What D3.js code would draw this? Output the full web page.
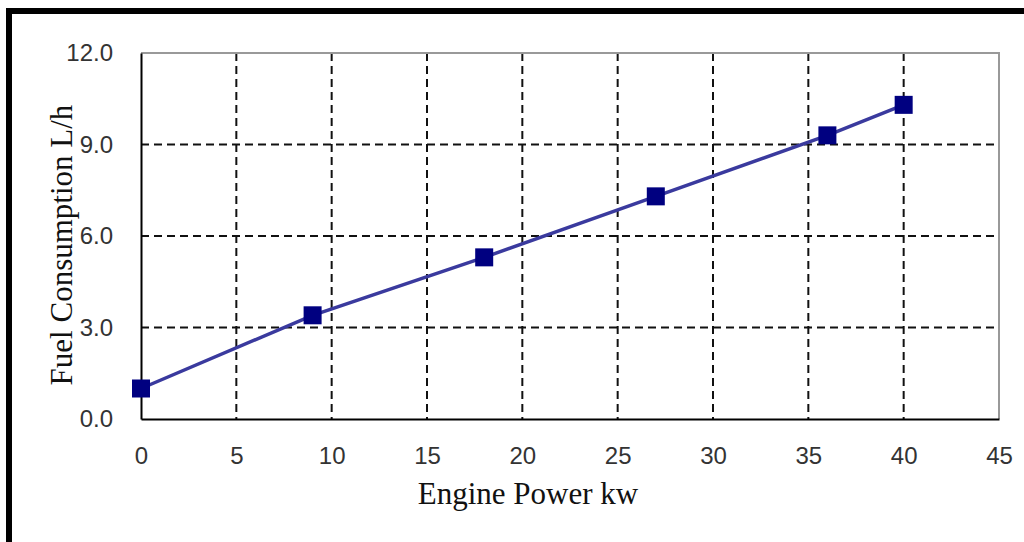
<!DOCTYPE html>
<html>
<head>
<meta charset="utf-8">
<script src="https://cdn.jsdelivr.net/npm/d3@7"></script>
<style>
  body { margin: 0; background: #fff; }
  svg { display: block; }
</style>
</head>
<body>
<svg id="chart" width="1024" height="542"></svg>
<script>
// data
var power = [0, 9, 18, 27, 36, 40];
var fuel = [1.0, 3.4, 5.3, 7.3, 9.3, 10.3];
var xTicks = [0, 5, 10, 15, 20, 25, 30, 35, 40, 45];
var yTicks = [0, 3, 6, 9, 12];

var svg = d3.select("#chart"),
    width = +svg.attr("width"),
    height = +svg.attr("height");

var pLeft = 141, pRight = 999, pTop = 53, pBottom = 419;

var x = d3.scaleLinear().domain([0, 45]).range([pLeft, pRight]);
var y = d3.scaleLinear().domain([0, 12]).range([pBottom, pTop]);

// outer frame (left and top only show)
svg.append("rect").attr("x", 9).attr("y", 11).attr("width", 1030).attr("height", 560)
    .attr("fill", "none").attr("stroke", "#000").attr("stroke-width", 6);

// dashed grid
svg.append("g").selectAll("line")
    .data(xTicks.slice(1, -1)).enter()
    .append("line")
    .attr("x1", function(d) { return x(d); })
    .attr("x2", function(d) { return x(d); })
    .attr("y1", pTop).attr("y2", pBottom)
    .attr("stroke", "#111").attr("stroke-width", 2)
    .attr("stroke-dasharray", "8,5");

svg.append("g").selectAll("line")
    .data(yTicks.slice(1, -1)).enter()
    .append("line")
    .attr("y1", function(d) { return y(d); })
    .attr("y2", function(d) { return y(d); })
    .attr("x1", pLeft).attr("x2", pRight)
    .attr("stroke", "#111").attr("stroke-width", 2)
    .attr("stroke-dasharray", "8,5");

// plot frame: gray top/right, black left/bottom
svg.append("path")
    .attr("d", "M" + pLeft + "," + pTop + "H" + pRight + "V" + pBottom)
    .attr("fill", "none").attr("stroke", "#999").attr("stroke-width", 2);

var xAxis = svg.append("g")
    .attr("transform", "translate(0," + pBottom + ")")
    .call(d3.axisBottom(x).tickValues(xTicks).tickSize(0).tickPadding(38)
        .tickFormat(d3.format("d")));
var yAxis = svg.append("g")
    .attr("transform", "translate(" + pLeft + ",0)")
    .call(d3.axisLeft(y).tickValues(yTicks).tickSize(0).tickPadding(28)
        .tickFormat(d3.format(".1f")));

[xAxis, yAxis].forEach(function(a) {
    a.select(".domain").attr("stroke", "#000").attr("stroke-width", 2);
    a.selectAll("text")
        .attr("fill", "#333")
        .style("font-family", "'Liberation Sans', Arial, sans-serif")
        .style("font-size", "24px");
});
xAxis.selectAll("text").attr("dy", "0.3em");

// line and markers
var line = d3.line()
    .x(function(d, i) { return x(power[i]); })
    .y(function(d) { return y(d); });

svg.append("path")
    .datum(fuel)
    .attr("d", line)
    .attr("fill", "none")
    .attr("stroke", "#3a3a9e")
    .attr("stroke-width", 3.5);

svg.append("g").selectAll("rect")
    .data(fuel).enter()
    .append("rect")
    .attr("x", function(d, i) { return x(power[i]) - 9; })
    .attr("y", function(d) { return y(d) - 9; })
    .attr("width", 18).attr("height", 18)
    .attr("fill", "#000080");

// axis titles
svg.append("text")
    .attr("x", 528).attr("y", 504)
    .attr("text-anchor", "middle")
    .style("font-family", "'Liberation Serif', 'Times New Roman', serif")
    .style("font-size", "31px")
    .attr("fill", "#111")
    .text("Engine Power kw");

svg.append("text")
    .attr("transform", "translate(72,245) rotate(-90)")
    .attr("text-anchor", "middle")
    .style("font-family", "'Liberation Serif', 'Times New Roman', serif")
    .style("font-size", "31px")
    .attr("fill", "#111")
    .text("Fuel Consumption L/h");
</script>
</body>
</html>
